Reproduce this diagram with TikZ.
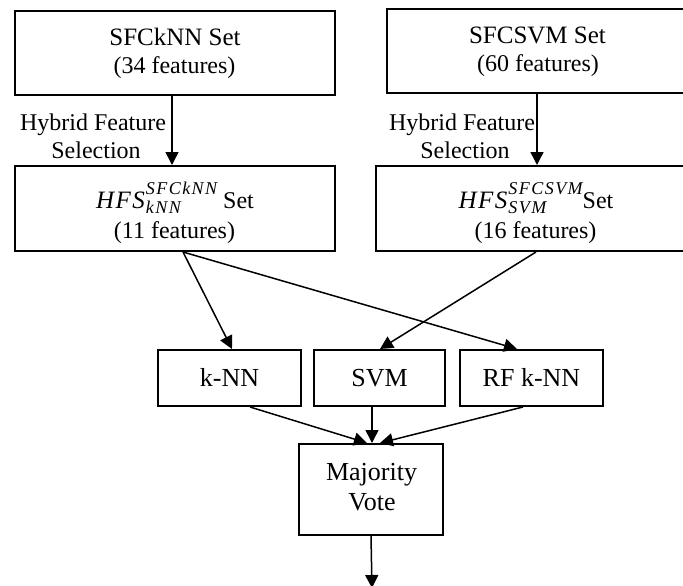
\documentclass[tikz,border=0pt]{standalone}
\usepackage{fontspec}
\setmainfont{Liberation Serif}
\usetikzlibrary{arrows.meta,calc}
\newcommand{\hfsterm}[2]{{\fontsize{25}{25}\selectfont\itshape\addfontfeatures{LetterSpace=6}HFS}\kern1pt{\fontsize{18}{18}\selectfont\itshape\addfontfeatures{LetterSpace=8}\rlap{\raisebox{14pt}{#1}}\rlap{\raisebox{-5pt}{#2}}\phantom{#1}}}
\begin{document}
\begin{tikzpicture}[x=1pt,y=-1pt,
  box/.style={draw,line width=2pt,inner sep=0pt},
  big/.style={inner sep=0pt,anchor=base,font=\fontsize{25}{25}\selectfont},
  mid/.style={inner sep=0pt,anchor=base,font=\fontsize{24}{24}\selectfont},
  clf/.style={inner sep=0pt,anchor=base,font=\fontsize{26}{26}\selectfont},
  arr/.style={line width=1.5pt,-{Triangle[length=13pt,width=13pt]}}]
\useasboundingbox (0,0) rectangle (683,586);
% boxes
\node[box,minimum width=320pt,minimum height=84pt] (sfck) at (175,53) {};
\node[box,minimum width=302pt,minimum height=84pt] (sfcs) at (538,51) {};
\node[box,minimum width=320pt,minimum height=85pt] (hfsk) at (175,208.5) {};
\node[box,minimum width=320pt,minimum height=85pt] (hfss) at (536,208.5) {};
\node[box,minimum width=143pt,minimum height=56pt] (knn) at (229.5,378) {};
\node[box,minimum width=131pt,minimum height=56pt] (svm) at (379.5,378) {};
\node[box,minimum width=143pt,minimum height=56pt] (rf) at (531.5,378) {};
\node[box,minimum width=144pt,minimum height=91pt] (maj) at (371,489.5) {};
% texts
\node[big] (t1a) at (175,46) {SFCkNN Set};
\node[mid] (t1b) at (174.5,74) {(34 features)};
\node[big] (t2a) at (537.5,44) {SFCSVM Set};
\node[mid] (t2b) at (538,72) {(60 features)};
\node[mid] (t3a) at (175,208) {\hfsterm{SFCkNN}{kNN} Set};
\node[mid] (t3b) at (174.5,238) {(11 features)};
\node[mid] (t4a) at (536,208) {\hfsterm{SFCSVM}{SVM}Set};
\node[mid] (t4b) at (535.5,238) {(16 features)};
\node[mid] (l1a) at (93,130) {Hybrid Feature};
\node[mid] (l1b) at (96,158) {Selection};
\node[mid] (l2a) at (462,130) {Hybrid Feature};
\node[mid] (l2b) at (465,158) {Selection};
\node[clf] (tk) at (229.5,386) {k-NN};
\node[clf] (ts) at (379.5,386) {SVM};
\node[clf] (tr) at (531.5,386) {RF k-NN};
\node[clf] (tm1) at (371.5,480) {Majority};
\node[clf] (tm2) at (372,510) {Vote};
\coordinate (out) at (372,588);
% connectors
\draw[arr] ([xshift=-3pt]sfck.south) -- ([xshift=-3pt]hfsk.north);
\draw[arr] ([xshift=-1pt]sfcs.south) -- ([xshift=1pt]hfss.north);
\draw[arr] ([xshift=8pt]hfsk.south) -- ([xshift=2.5pt]knn.north);
\draw[arr] ([xshift=8pt]hfsk.south) -- ([xshift=-14.5pt]rf.north);
\draw[arr] (hfss.south) -- ([xshift=0.5pt]svm.north);
\draw[arr] ([xshift=20.5pt]knn.south) -- ([xshift=-4pt]maj.north);
\draw[arr] ([xshift=-7.5pt]svm.south) -- ([xshift=1pt]maj.north);
\draw[arr] ([xshift=-8.5pt]rf.south) -- ([xshift=9pt]maj.north);
\draw[arr] (maj.south) -- (out);
\end{tikzpicture}
\end{document}
